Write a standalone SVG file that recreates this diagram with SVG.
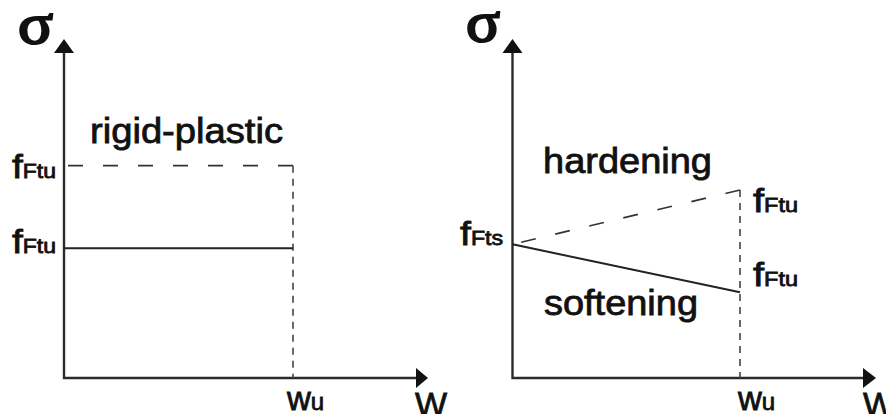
<svg xmlns="http://www.w3.org/2000/svg" width="886" height="414" viewBox="0 0 886 414">
<style>
.ax{stroke:#2b2b2b;stroke-width:2.4;fill:none}
.solid{stroke:#222;stroke-width:2;fill:none}
.dash{stroke:#333;stroke-width:1.7;fill:none;stroke-dasharray:15 20}
.vdash{stroke:#444;stroke-width:1.6;fill:none;stroke-dasharray:7 6}
.head{fill:#111}
.t{font-family:"Liberation Sans",Arial,sans-serif;fill:#111;stroke:#111;stroke-width:0.8}
.sig{font-family:"Liberation Serif","Times New Roman",serif;fill:#111;stroke:#111;stroke-width:2.2;font-size:58px}
</style>
<rect width="886" height="414" fill="#fff"/>
<g id="left-panel">
  <g id="left-axes">
    <path class="ax" d="M64,52 V378 H417"/>
    <polygon class="head" points="64,39 54,53 74,53"/>
    <polygon class="head" points="428,378 416,368 416,388"/>
  </g>
  <g id="left-lines">
    <path class="dash" d="M293,165.7 H64"/>
    <path class="vdash" d="M293,165.7 V378"/>
    <path class="solid" d="M64,248.3 H293"/>
  </g>
  <text class="sig" x="18" y="42.5" textLength="35" lengthAdjust="spacingAndGlyphs">σ</text>
  <text class="t" x="90" y="143" font-size="35" textLength="193" lengthAdjust="spacingAndGlyphs">rigid-plastic</text>
  <text class="t" x="12" y="178" textLength="44" lengthAdjust="spacingAndGlyphs"><tspan font-size="34">f</tspan><tspan font-size="20">Ftu</tspan></text>
  <text class="t" x="12" y="253" textLength="44" lengthAdjust="spacingAndGlyphs"><tspan font-size="34">f</tspan><tspan font-size="20">Ftu</tspan></text>
  <text class="t" x="287" y="410"><tspan font-size="33">w</tspan><tspan font-size="24">u</tspan></text>
  <text class="t" x="415" y="416" font-size="34">W</text>
</g>
<g id="right-panel">
  <g id="right-axes">
    <path class="ax" d="M512.5,52 V378 H864"/>
    <polygon class="head" points="512.5,39 502.5,53 522.5,53"/>
    <polygon class="head" points="876,378 863,368 863,388"/>
  </g>
  <g id="right-lines">
    <path class="dash" d="M740,190 L512.5,244.3"/>
    <path class="vdash" d="M740,190 V378"/>
    <path class="solid" d="M512.5,244.3 L740,292.3"/>
  </g>
  <text class="sig" x="466" y="41" textLength="34" lengthAdjust="spacingAndGlyphs">σ</text>
  <text class="t" x="543" y="172.7" font-size="35" textLength="169" lengthAdjust="spacingAndGlyphs">hardening</text>
  <text class="t" x="544" y="315" font-size="35" textLength="154" lengthAdjust="spacingAndGlyphs">softening</text>
  <text class="t" x="460" y="245" textLength="43" lengthAdjust="spacingAndGlyphs"><tspan font-size="34">f</tspan><tspan font-size="20">Fts</tspan></text>
  <text class="t" x="753" y="212" textLength="45" lengthAdjust="spacingAndGlyphs"><tspan font-size="34">f</tspan><tspan font-size="20">Ftu</tspan></text>
  <text class="t" x="753" y="286" textLength="45" lengthAdjust="spacingAndGlyphs"><tspan font-size="34">f</tspan><tspan font-size="20">Ftu</tspan></text>
  <text class="t" x="738" y="410"><tspan font-size="33">w</tspan><tspan font-size="24">u</tspan></text>
  <text class="t" x="863" y="416" font-size="34">W</text>
</g>
</svg>
